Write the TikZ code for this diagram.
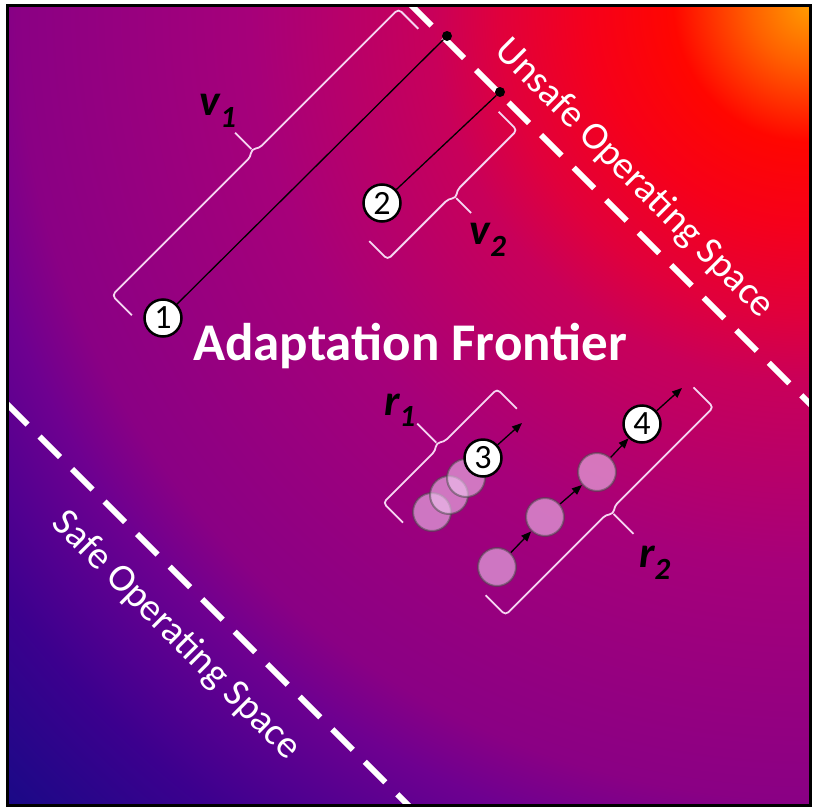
\documentclass[tikz,border=0pt]{standalone}
\usepackage{fontspec}
\setmainfont{Carlito}
\usetikzlibrary{arrows.meta}

\definecolor{bracketpink}{HTML}{F6D6F2}
\definecolor{ghostpink}{HTML}{F0C6F0}
\definecolor{heatA}{HTML}{FF9C00}
\definecolor{heatB}{HTML}{FF6000}
\definecolor{heatC}{HTML}{FF0600}
\definecolor{heatD}{HTML}{F6001A}
\definecolor{heatE}{HTML}{E0003C}
\definecolor{heatF}{HTML}{C8005A}
\definecolor{heatG}{HTML}{A6007A}
\definecolor{heatH}{HTML}{8A0084}
\definecolor{heatI}{HTML}{6E0090}
\definecolor{heatJ}{HTML}{540090}
\definecolor{heatK}{HTML}{3C008E}
\definecolor{heatL}{HTML}{180A86}

% radius 25bp = distance from the hot corner to the far corner
\pgfdeclareradialshading{heat}{\pgfpoint{0bp}{0bp}}{%
  color(0bp)=(heatA); color(1.3bp)=(heatB); color(3bp)=(heatC);
  color(4.8bp)=(heatD); color(6.8bp)=(heatE); color(8.3bp)=(heatF);
  color(12.3bp)=(heatG); color(17.4bp)=(heatH); color(18.8bp)=(heatI);
  color(20.4bp)=(heatJ); color(21.9bp)=(heatK); color(25bp)=(heatL);
  color(50bp)=(heatL)}

\tikzset{
  marker/.style={circle, draw=black, line width=2.5pt, fill=white, inner sep=0pt,
    minimum size=37pt, font=\fontsize{34}{34}\selectfont},
  dot/.style={circle, fill=black, inner sep=0pt, minimum size=10pt},
  ghost/.style={circle, draw=black!70, draw opacity=0.55, line width=2pt,
    fill=ghostpink, fill opacity=0.6, inner sep=0pt, minimum size=38pt},
  hop/.style={-{Triangle[length=10pt,width=8pt]}, line width=1.3pt},
  bracket/.style={draw=bracketpink, line width=1.8pt, rounded corners=4pt},
  frontier/.style={draw=white, line width=6pt, dash pattern=on 29pt off 17pt},
  zone/.style={text=white, font=\fontsize{39}{39}\selectfont},
  varlabel/.style={font=\fontsize{44}{44}\selectfont\bfseries\itshape}
}

\begin{document}
\begin{tikzpicture}[x=1pt, y=-1pt]
  \useasboundingbox[fill=white] (0,0) rectangle (816,811);

  % background and the two boundaries
  \begin{scope}
    \clip (7,5) rectangle (810,805);
    \shade[shading=heat] (810,5) circle (1140);
    \draw[frontier] (411,5) -- (811,405);
    \draw[frontier] (7,404) -- (410,807);
  \end{scope}
  \draw[line width=3pt] (7,5) rectangle (810,805);

  \node[zone, rotate=-45, anchor=base] (unsafe) at (627,186) {Unsafe Operating Space};
  \node[zone, rotate=-45, anchor=base] (safe) at (169,643) {Safe Operating Space};
  \node[text=white, font=\fontsize{53}{53}\selectfont\bfseries, anchor=base] (frontier) at (410,360) {Adaptation Frontier};

  % v1 and v2
  \node[dot] (d1) at (447,36) {};
  \node[dot] (d2) at (500,92) {};
  \node[marker] (m1) at (163,318) {1};
  \node[marker] (m2) at (382,203) {2};
  \draw[line width=1.3pt] (m1) -- (d1);
  \draw[line width=1.3pt] (m2) -- (d2);

  \begin{scope}[shift={(163,318)}, rotate=45]
    \draw[bracket] (-20,-24) -- (-20,-52) -- (176,-52) -- (182,-57) -- (188,-52) -- (385,-52) -- (385,-24);
    \draw[bracket] (182,-57) -- (182,-80);
  \end{scope}
  \begin{scope}[shift={(382,203)}, rotate=45]
    \draw[bracket] (-36,18) -- (-36,44) -- (50,44) -- (56,49) -- (62,44) -- (147,44) -- (147,18);
    \draw[bracket] (56,49) -- (56,70);
  \end{scope}
  \node[varlabel] (lv1) at (218,111) {v\textsubscript{1}};
  \node[varlabel] (lv2) at (488,240) {v\textsubscript{2}};

  % r1
  \node[ghost] (g1) at (432,512) {};
  \node[ghost] (g2) at (449,495) {};
  \node[ghost] (g3) at (466,478) {};
  \node[marker] (m3) at (483,458) {3};
  \coordinate (e3) at (522,423);
  \draw[hop] (m3) -- (e3);

  % r2
  \node[ghost] (g4) at (497,567) {};
  \node[ghost] (g5) at (545,517) {};
  \node[ghost] (g6) at (597,472) {};
  \node[marker] (m4) at (642,424) {4};
  \coordinate (e4) at (682,388);
  \draw[hop] (g4) -- (g5);
  \draw[hop] (g5) -- (g6);
  \draw[hop] (g6) -- (m4);
  \draw[hop] (m4) -- (e4);

  \begin{scope}[shift={(432,512)}, rotate=45]
    \draw[bracket] (-28,-13) -- (-28,-41) -- (46,-41) -- (52,-46) -- (58,-41) -- (133,-41) -- (133,-13);
    \draw[bracket] (52,-46) -- (52,-73);
  \end{scope}
  \begin{scope}[shift={(497,567)}, rotate=45]
    \draw[bracket] (-28,12) -- (-28,40) -- (114,40) -- (120,45) -- (126,40) -- (266,40) -- (266,12);
    \draw[bracket] (120,45) -- (120,73);
  \end{scope}
  \node[varlabel] (lr1) at (400,410) {r\textsubscript{1}};
  \node[varlabel] (lr2) at (655,563) {r\textsubscript{2}};
\end{tikzpicture}
\end{document}
